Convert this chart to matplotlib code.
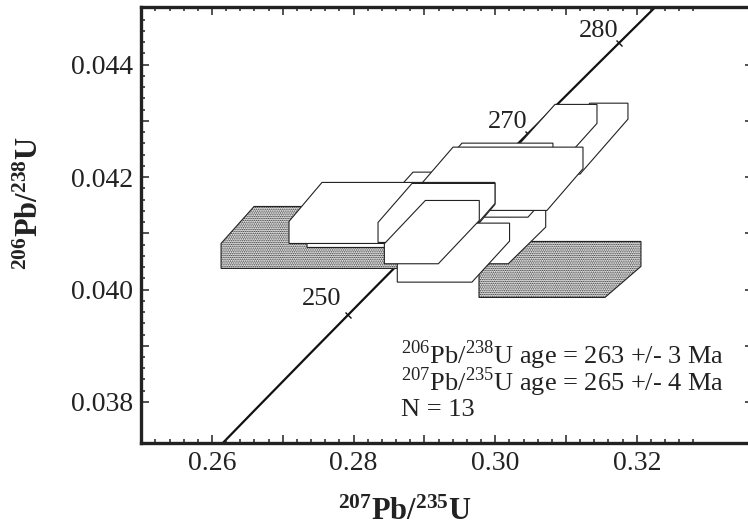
import numpy as np
import matplotlib
matplotlib.use("Agg")
import matplotlib.pyplot as plt
from matplotlib.patches import Polygon
from matplotlib.markers import MarkerStyle
from matplotlib.transforms import Affine2D

plt.rcParams['font.family'] = ['Liberation Serif', 'DejaVu Serif']
plt.rcParams['mathtext.fontset'] = 'custom'
plt.rcParams['mathtext.rm'] = 'Liberation Serif'
plt.rcParams['mathtext.bf'] = 'Liberation Serif:bold'
plt.rcParams['hatch.linewidth'] = 0.7
plt.rcParams['hatch.color'] = '#333333'

# ---- data: error boxes (207Pb/235U vs 206Pb/238U), drawn bottom -> top ----
box_cx = [0.27667, 0.30915, 0.31268, 0.30887, 0.29919, 0.29814, 0.30223,
          0.29157, 0.30068, 0.28281, 0.28542, 0.29171, 0.29410, 0.29105]
box_cy = [0.040927, 0.040358, 0.042685, 0.042769, 0.042062, 0.040963, 0.041822,
          0.041564, 0.041971, 0.041292, 0.041363, 0.041363, 0.040657, 0.041022]
box_ex = [0.01306, 0.008896, 0.002683, 0.002965, 0.006425, 0.006354, 0.004942,
          0.00565, 0.009178, 0.00706, 0.012214, 0.00586, 0.005274, 0.00381]
box_ey = [0.000222, 0.000222, 0.000142, 0.000169, 0.000178, 0.000178, 0.000178,
          0.000178, 0.000192, 0.000196, 0.000196, 0.000178, 0.000160, 0.000178]
box_sx = [0.00233, 0.002542, 0.003389, 0.002542, 0.002542, 0.00264, 0.002542,
          0.00247, 0.002542, 0.00233, 0.00233, 0.0024, 0.002655, 0.002895]
box_sy = [0.000329, 0.000276, 0.000489, 0.000356, 0.000365, 0.000326, 0.000356,
          0.000347, 0.000371, 0.000347, 0.000347, 0.000347, 0.000365, 0.000385]
box_dotted = [True, True, False, False, False, False, False,
              False, False, False, False, False, False, False]

# concordia (decay constants, per year) and labelled ages (Ma)
lambda238 = 1.55125e-10
lambda235 = 9.8485e-10
conc_ages = [225, 295]
tick_ages = [250, 270, 280]
tick_label_offsets = [(-4.5, 4.0), (-0.5, 0.5), (-0.5, 0.5)]

x_major = [0.26, 0.27, 0.28, 0.29, 0.30, 0.31, 0.32]
x_labels = ['0.26', '', '0.28', '', '0.30', '', '0.32']
y_major = [0.038, 0.039, 0.040, 0.041, 0.042, 0.043, 0.044]
y_labels = ['0.038', '', '0.040', '', '0.042', '', '0.044']

stats_lines = [r'$^{206}$Pb/$^{238}$U age = 263 +/- 3 Ma',
               r'$^{207}$Pb/$^{235}$U age = 265 +/- 4 Ma',
               'N = 13']

W, H = 748, 528
fig = plt.figure(figsize=(W / 100, H / 100), dpi=100)
ax = fig.add_axes([141.2 / W, 1 - 443.0 / H, 611.7 / W, 435.6 / H])
ax.set_xlim(0.25, 0.3364)
ax.set_ylim(0.03727, 0.04502)

# boxes
for cx, cy, ex, ey, sx, sy, dot in zip(box_cx, box_cy, box_ex, box_ey,
                                        box_sx, box_sy, box_dotted):
    verts = [(cx - ex - sx, cy - ey - sy), (cx + ex - sx, cy - ey - sy),
             (cx + ex + sx, cy - ey + sy), (cx + ex + sx, cy + ey + sy),
             (cx - ex + sx, cy + ey + sy), (cx - ex - sx, cy + ey - sy)]
    if dot:
        p = Polygon(verts, closed=True, facecolor='#f2f2f2', edgecolor='#222222',
                    hatch='.........', linewidth=0.8, zorder=2)
    else:
        p = Polygon(verts, closed=True, facecolor='white', edgecolor='#222222',
                    linewidth=0.8, zorder=2)
    ax.add_patch(p)

# concordia
t = np.linspace(conc_ages[0], conc_ages[1], 200) * 1e6
cx_line = np.exp(lambda235 * t) - 1
cy_line = np.exp(lambda238 * t) - 1
ax.plot(cx_line, cy_line, color='#111111', lw=1.6, zorder=1.5)

tm = MarkerStyle('_', transform=Affine2D().rotate_deg(-44))
for age, off in zip(tick_ages, tick_label_offsets):
    tx = np.exp(lambda235 * age * 1e6) - 1
    ty = np.exp(lambda238 * age * 1e6) - 1
    ax.plot([tx], [ty], marker=tm, markersize=6, color='#111111', mew=1.0,
            zorder=1.6)
    ax.annotate(str(age), (tx, ty), xytext=off, textcoords='offset points',
                ha='right', va='bottom', fontsize=19, color='#222222', zorder=3)

# ticks
ax.set_xticks(x_major)
ax.set_xticklabels(x_labels)
ax.set_xticks(np.arange(0.252, 0.3285, 0.002), minor=True)
ax.set_yticks(y_major)
ax.set_yticklabels(y_labels)
ax.set_yticks(np.arange(0.038, 0.04485, 0.0002), minor=True)
ax.tick_params(which='both', direction='in', top=True, right=True,
               labelsize=20, colors='#222222', width=1.1)
ax.tick_params(which='major', length=6.0, pad=6)
ax.tick_params(which='minor', length=3.0)
for sp in ax.spines.values():
    sp.set_linewidth(2.4)
    sp.set_color('#222222')

# axis labels
fig.text(405 / W, 1 - 512 / H, r'$\mathbf{^{207}Pb/^{235}U}$', ha='center',
         va='center', fontsize=22, color='#222222')
fig.text(30 / W, 1 - 203 / H, r'$\mathbf{^{206}Pb/^{238}U}$', ha='center',
         va='center', fontsize=22, rotation=90, color='#222222')

# statistics text: the two age lines as one block, N on its own line
fig.text(401 / W, 1 - 338 / H, '\n'.join(stats_lines[:2]), ha='left', va='top',
         fontsize=19, linespacing=0.74, color='#222222')
fig.text(401 / W, 1 - 416 / H, stats_lines[2], ha='left', va='baseline',
         fontsize=19, color='#222222')

fig.savefig('out.png', dpi=100)
